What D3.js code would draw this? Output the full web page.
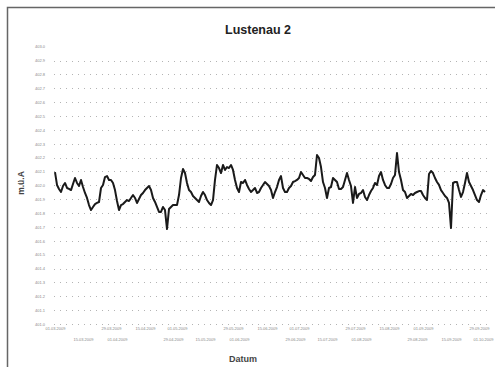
<!DOCTYPE html>
<html>
<head>
<meta charset="utf-8">
<script src="https://cdn.jsdelivr.net/npm/d3@7"></script>
<style>
  html, body { margin: 0; padding: 0; background: #fff; }
  svg { display: block; font-family: "Liberation Sans", Arial, sans-serif; }
</style>
</head>
<body>
<svg id="chart" width="495" height="367"></svg>
<script>
// Groundwater level, station Lustenau 2 (daily readings, m above Adriatic)
const title = "Lustenau 2";
const yLabel = "m.ü.A";
const xLabel = "Datum";
const startDate = "2009-03-01";
const levels = [
  402.096, 402.003, 401.974, 401.952, 401.995, 402.017, 401.981, 401.974, 401.966, 402.010,
  402.053, 402.017, 401.995, 402.039, 401.988, 401.945, 401.909, 401.858, 401.822, 401.844,
  401.865, 401.873, 401.880, 401.981, 402.003, 402.060, 402.067, 402.039, 402.039, 402.017,
  401.966, 401.887, 401.822, 401.858, 401.865, 401.880, 401.894, 401.887, 401.909, 401.930,
  401.909, 401.873, 401.902, 401.930, 401.945, 401.966, 401.981, 401.995, 401.966, 401.909,
  401.880, 401.844, 401.808, 401.808, 401.844, 401.822, 401.685, 401.829, 401.844, 401.858,
  401.858, 401.858, 401.930, 402.053, 402.118, 402.089, 402.017, 401.966, 401.952, 401.923,
  401.909, 401.894, 401.880, 401.923, 401.952, 401.930, 401.894, 401.873, 401.858, 401.894,
  402.039, 402.147, 402.125, 402.089, 402.147, 402.111, 402.132, 402.125, 402.147, 402.111,
  402.039, 401.981, 401.952, 402.024, 402.017, 402.039, 402.003, 401.974, 401.952, 401.966,
  401.981, 401.945, 401.952, 401.981, 402.003, 402.024, 402.010, 401.995, 401.966, 401.909,
  401.952, 401.988, 402.039, 402.067, 401.981, 401.952, 401.952, 401.981, 401.995, 402.024,
  402.031, 402.039, 402.053, 402.096, 402.075, 402.053, 402.053, 402.046, 402.031, 402.060,
  402.075, 402.219, 402.197, 402.132, 402.024, 401.981, 401.909, 401.981, 401.988, 402.053,
  402.039, 402.024, 401.974, 401.974, 401.988, 402.039, 402.089, 402.039, 401.995, 401.873,
  401.988, 401.909, 401.938, 401.945, 401.966, 401.916, 401.894, 401.930, 401.959, 401.981,
  402.017, 402.003, 402.067, 402.096, 402.039, 402.003, 401.981, 401.981, 402.010, 402.053,
  402.075, 402.233, 402.096, 402.039, 401.966, 401.952, 401.909, 401.923, 401.938, 401.930,
  401.945, 401.952, 401.959, 401.959, 401.930, 401.909, 401.894, 402.082, 402.104, 402.089,
  402.053, 402.024, 402.003, 401.966, 401.945, 401.923, 401.909, 401.873, 401.692, 402.017,
  402.024, 402.024, 401.966, 401.916, 401.952, 402.017, 402.089, 402.024, 401.995, 401.966,
  401.930, 401.894, 401.880, 401.930, 401.966, 401.952
];
const yTicks = [401.0, 401.1, 401.2, 401.3, 401.4, 401.5, 401.6, 401.7, 401.8, 401.9, 402.0,
                402.1, 402.2, 402.3, 402.4, 402.5, 402.6, 402.7, 402.8, 402.9, 403.0];

const svg = d3.select("#chart");
const plot = { left: 50, right: 490, top: 46.7, bottom: 324 };

// outer frame
svg.append("rect")
  .attr("x", 7.5).attr("y", 7.5).attr("width", 600).attr("height", 600)
  .attr("fill", "none").attr("stroke", "#666").attr("stroke-width", 1.5);

const day0 = d3.timeParse("%Y-%m-%d")(startDate);
const data = levels.map((v, i) => ({ date: d3.timeDay.offset(day0, i), value: v }));

const x = d3.scaleTime()
  .domain([d3.timeHour.offset(day0, -60), d3.timeHour.offset(data[data.length - 1].date, 60)])
  .range([plot.left, plot.right]);
const y = d3.scaleLinear()
  .domain([yTicks[0], yTicks[yTicks.length - 1]])
  .range([plot.bottom, plot.top]);

// dotted horizontal grid (bottom one doubles as the axis line)
svg.append("g")
  .selectAll("line")
  .data(yTicks.slice(0, -1))
  .join("line")
  .attr("x1", plot.left + 4).attr("x2", plot.right)
  .attr("y1", d => Math.round(y(d)) + 0.5).attr("y2", d => Math.round(y(d)) + 0.5)
  .attr("stroke", "#b4b4b4").attr("stroke-width", 1)
  .attr("stroke-dasharray", "1 5");

// y axis labels
const yAxis = d3.axisLeft(y).tickValues(yTicks).tickSize(0).tickPadding(0)
  .tickFormat(d3.format(".1f"));
const gy = svg.append("g").attr("transform", `translate(${plot.left - 5},0)`).call(yAxis);
gy.select(".domain").remove();
gy.selectAll("text").attr("font-size", 4).attr("fill", "#888")
  .attr("font-family", "Liberation Sans, Arial, sans-serif");

// x axis labels, staggered on two rows
const xTicks = d3.timeDay.every(14).range(x.domain()[0], x.domain()[1]);
const xAxis = d3.axisBottom(x).tickValues(xTicks).tickSize(0).tickPadding(0)
  .tickFormat(d3.timeFormat("%d.%m.%Y"));
const gx = svg.append("g").attr("transform", `translate(0,${plot.bottom + 3})`).call(xAxis);
gx.select(".domain").remove();
gx.selectAll("text").attr("font-size", 4).attr("fill", "#888")
  .attr("font-family", "Liberation Sans, Arial, sans-serif")
  .attr("dy", (d, i) => i % 2 ? 14 : 3);

// the level series
const line = d3.line().x(d => x(d.date)).y(d => y(d.value));
svg.append("path")
  .datum(data)
  .attr("d", line)
  .attr("fill", "none")
  .attr("stroke", "#1a1a1a")
  .attr("stroke-width", 2)
  .attr("stroke-linejoin", "round");

// titles
svg.append("text")
  .attr("x", 258).attr("y", 34)
  .attr("text-anchor", "middle")
  .attr("font-size", 12.5).attr("font-weight", "bold").attr("fill", "#222")
  .text(title);
svg.append("text")
  .attr("x", 243).attr("y", 362)
  .attr("text-anchor", "middle")
  .attr("font-size", 9).attr("font-weight", "bold").attr("fill", "#444")
  .text(xLabel);
svg.append("text")
  .attr("transform", "translate(24,183) rotate(-90)")
  .attr("text-anchor", "middle")
  .attr("font-size", 8.5).attr("font-weight", "bold").attr("fill", "#444")
  .text(yLabel);
</script>
</body>
</html>
